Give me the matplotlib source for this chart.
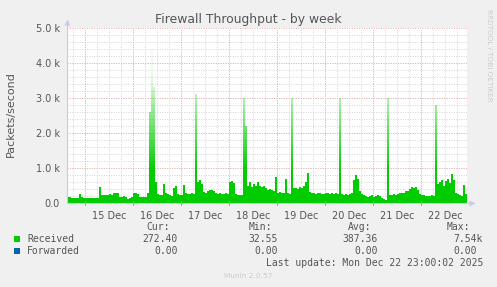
import numpy as np
import matplotlib
matplotlib.use("Agg")
import matplotlib.pyplot as plt
from matplotlib.colors import to_rgb

# ---------------- data ----------------
# hourly received packets/second, starting Dec 14 15:00 (200 hours)
received = [
    180, 160, 150, 140, 150, 140,
    250, 170,
    140, 130, 140, 150, 140, 130, 140, 150,
    450,
    230, 220, 240, 230, 250, 230,
    290, 280, 300,
    180, 170, 190, 160, 120, 150, 170,
    280, 290, 250,
    180, 170, 160, 180,
    300,
    2600, 4400, 3300, 600,
    250, 230, 240,
    550,
    300, 250, 220, 200,
    420, 480,
    250, 220, 240,
    520,
    300, 270, 250, 280, 260,
    3100,
    600, 650, 550,
    320, 300, 330,
    370, 360, 340,
    280, 260, 300, 250, 270, 290, 260,
    600,
    630, 580,
    250, 220, 240,
    230,
    3000, 2200,
    500, 600, 450, 550, 500, 600, 480,
    450, 500, 420, 380,
    400, 380, 350,
    740,
    300, 320, 280, 300,
    690,
    280, 250,
    3000,
    420, 430, 410, 450, 430, 500,
    600, 850,
    320, 300, 280, 260, 300, 280, 250, 270, 300, 280, 260, 290, 270, 300, 250,
    3000,
    250, 230, 260, 240, 250, 300,
    650, 800, 700,
    350, 250,
    220, 200, 180, 200, 220, 180, 200, 230, 190, 150, 120, 100,
    3000,
    240, 220, 250, 230, 260, 280, 300, 280, 330, 350,
    400, 450, 420, 450, 380,
    250, 220, 230, 200, 210, 190, 230, 210,
    2800,
    550, 600, 650, 500, 620, 700, 580,
    830,
    650, 300, 250, 220, 200,
    520,
    270,
]
forwarded = [0.0] * len(received)

day_labels = ["15 Dec", "16 Dec", "17 Dec", "18 Dec", "19 Dec", "20 Dec", "21 Dec", "22 Dec"]
first_midnight_hour = 9  # Dec 15 00:00 is 9 h after start
y_ticks = [0, 1000, 2000, 3000, 4000, 5000]
y_tick_labels = ["0.0", "1.0 k", "2.0 k", "3.0 k", "4.0 k", "5.0 k"]

series_names = ["Received", "Forwarded"]
series_colors = ["#00CC00", "#0066B3"]
stats_cur = ["272.40", "0.00"]
stats_min = ["32.55", "0.00"]
stats_avg = ["387.36", "0.00"]
stats_max = ["7.54k", "0.00"]

# ---------------- figure ----------------
W, H = 497, 287
fig = plt.figure(figsize=(W / 100, H / 100), dpi=100, facecolor="#F0F0F0")
ax = fig.add_axes([67 / W, 1 - 203 / H, 400 / W, 175 / H])
ax.set_facecolor("white")

n = len(received)
x = np.arange(n + 1)
yv = np.array(received + [received[-1]], dtype=float)

ax.set_xlim(0, n)
ax.set_ylim(0, 5000)

# grid
red = "#E8B0B0"
gray = "#D4D4D4"
dot = (0, (1, 1.5))
for h in np.arange(3, n, 6):
    ax.axvline(h, color=gray, lw=0.7, ls=dot, zorder=0)
for v in np.arange(200, 5000, 200):
    ax.axhline(v, color=gray, lw=0.7, ls=dot, zorder=0)
midnights = [first_midnight_hour + 24 * k for k in range(len(day_labels))]
for h in midnights:
    ax.axvline(h, color=red, lw=0.7, ls=dot, zorder=0.5)
for v in y_ticks[1:]:
    ax.axhline(v, color=red, lw=0.7, ls=dot, zorder=0.5)

# area with fading top (imitating anti-aliased narrow spikes)
poly = ax.fill_between(x, 0, yv, step="post", color="none", lw=0, zorder=2)
ys = np.linspace(0, 5000, 500)
alpha = np.clip(1 - (ys - 900) / 3000, 0.06, 1.0)
rgba = np.zeros((len(ys), 2, 4))
rgba[..., :3] = to_rgb(series_colors[0])
rgba[..., 3] = alpha[:, None]
im = ax.imshow(rgba, extent=(0, n, 0, 5000), origin="lower", aspect="auto",
               interpolation="bilinear", zorder=2)
im.set_clip_path(poly.get_paths()[0], transform=ax.transData)
ax.fill_between(x, yv, yv + np.array(forwarded + [0.0]), step="post",
                color=series_colors[1], lw=0, zorder=3)

# axes
for s in ax.spines.values():
    s.set_visible(False)
axis_col = "#C8C8F0"
ax.plot([0, 0], [0, 1.03], transform=ax.transAxes, color=axis_col, lw=0.8, clip_on=False, zorder=4)
ax.plot([0, 1.01], [0, 0], transform=ax.transAxes, color=axis_col, lw=0.8, clip_on=False, zorder=4)
ax.plot([0], [1.035], transform=ax.transAxes, marker="^", ms=4, color=axis_col, clip_on=False, mec="none")
ax.plot([1.012], [0], transform=ax.transAxes, marker=">", ms=4, color=axis_col, clip_on=False, mec="none")

ax.set_yticks(y_ticks)
ax.set_yticklabels(y_tick_labels)
ax.set_xticks([m + 12 for m in midnights])
ax.set_xticklabels(day_labels)
ax.tick_params(axis="both", length=0, labelsize=7, labelcolor="#555555", pad=5)
ax.tick_params(axis="x", pad=6)
for h in midnights:
    ax.plot([h, h], [-60, 60], color="#E08080", lw=0.7, clip_on=False, zorder=4)

def fx(px):
    return px / W

def fy(py):
    return 1 - py / H

fig.text(fx(248), fy(19), "Firewall Throughput - by week", ha="center", va="center",
         fontsize=8.9, color="#555555")
fig.text(fx(11), fy(114), "Packets/second", rotation=90, ha="center", va="center",
         fontsize=8, color="#555555")
fig.text(fx(489), fy(55), "RRDTOOL / TOBI OETIKER", rotation=270, ha="center", va="center",
         fontsize=5.2, color="#CCCCCC")

mono = "DejaVu Sans Mono"
tc = "#555555"
fs = 7
hy = 227
fig.text(fx(170), fy(hy), "Cur:", ha="right", va="center", family=mono, fontsize=fs, color=tc)
fig.text(fx(272), fy(hy), "Min:", ha="right", va="center", family=mono, fontsize=fs, color=tc)
fig.text(fx(371), fy(hy), "Avg:", ha="right", va="center", family=mono, fontsize=fs, color=tc)
fig.text(fx(470), fy(hy), "Max:", ha="right", va="center", family=mono, fontsize=fs, color=tc)
rows_y = [239, 251]
for k in range(2):
    ry = rows_y[k]
    fig.patches.append(plt.Rectangle((fx(14), fy(ry + 3)), 6 / W, 6 / H, transform=fig.transFigure,
                                     facecolor=series_colors[k], edgecolor="none"))
    fig.text(fx(27), fy(ry), series_names[k], ha="left", va="center", family=mono, fontsize=fs, color=tc)
    fig.text(fx(178), fy(ry), stats_cur[k], ha="right", va="center", family=mono, fontsize=fs, color=tc)
    fig.text(fx(278), fy(ry), stats_min[k], ha="right", va="center", family=mono, fontsize=fs, color=tc)
    fig.text(fx(378), fy(ry), stats_avg[k], ha="right", va="center", family=mono, fontsize=fs, color=tc)
    fig.text(fx(483 if k == 0 else 477), fy(ry), stats_max[k], ha="right", va="center",
             family=mono, fontsize=fs, color=tc)
fig.text(fx(483), fy(263), "Last update: Mon Dec 22 23:00:02 2025", ha="right", va="center",
         family=mono, fontsize=fs, color=tc)
fig.text(fx(248), fy(276), "Munin 2.0.57", ha="center", va="center", fontsize=5.3, color="#CCCCCC")

fig.savefig("out.png", dpi=100, facecolor=fig.get_facecolor())
